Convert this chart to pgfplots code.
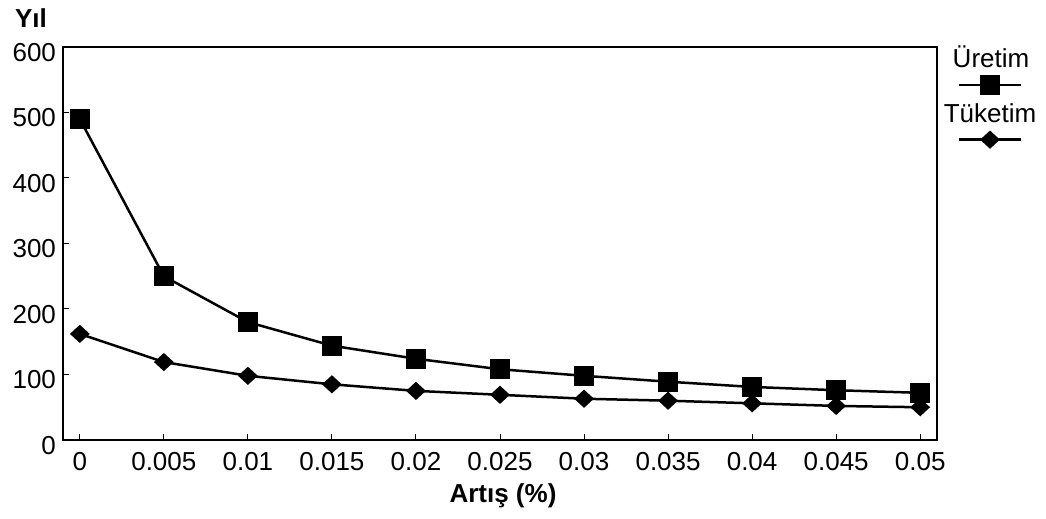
\documentclass[border=0pt]{standalone}
\usepackage{fontspec}
\setmainfont{Liberation Sans}
\usepackage{pgfplots}
\pgfplotsset{compat=1.18}
\begin{document}
\begin{tikzpicture}
\useasboundingbox (-31.5pt,-39.5pt) rectangle (491.5pt,220pt);
\begin{axis}[
 scale only axis, width=437pt, height=196.5pt,
 at={(0,0)}, anchor=south west,
 xmin=-0.2, xmax=10.2, ymin=0, ymax=600,
 xtick={0,...,10},
 xticklabels={0,0.005,0.01,0.015,0.02,0.025,0.03,0.035,0.04,0.045,0.05},
 ytick={0,100,...,600},
 tick pos=left, tick align=inside, major tick length=3pt,
 axis line style={line width=0.8pt},
 every tick/.style={black, line width=0.5pt},
 tick label style={font=\fontsize{13}{15}\selectfont},
 /pgf/number format/assume math mode=true,
 xticklabel style={yshift=-2.7pt},
 yticklabel style={yshift=-2.7pt},
 xlabel={\textbf{Artış (\%)}},
 every axis x label/.style={at={(rel axis cs:0.5,0)}, anchor=base, yshift=-31.5pt, xshift=1.5pt, font=\fontsize{13}{15}\selectfont},
 ylabel={\textbf{Yıl}},
 every axis y label/.style={at={(rel axis cs:0,1)}, anchor=base, xshift=-16pt, yshift=9.5pt, font=\fontsize{13}{15}\selectfont},
 legend style={draw=none, fill=none, at={(1.0618,0.8351)}, anchor=center, row sep=19.25pt, inner sep=0pt, nodes={inner sep=0pt}},
 legend image code/.code={\draw[mark repeat=2,mark phase=2,#1] plot coordinates {(0pt,0pt) (15.5pt,0pt) (31pt,0pt)};},
]
\addplot[black, line width=1.25pt, mark=square*, mark size=4.3pt, mark options={solid}] coordinates {
 (0,490) (1,250) (2,180) (3,144) (4,124) (5,108) (6,98) (7,89) (8,81) (9,76) (10,72)};
\addlegendentry{\hbox{}}
\addplot[black, line width=1.25pt, mark=diamond*, mark size=3.7pt, mark options={solid, xscale=1.45}] coordinates {
 (0,162) (1,119) (2,98) (3,85) (4,75) (5,69) (6,63) (7,60) (8,56) (9,52) (10,50)};
\addlegendentry{\hbox{}}
\end{axis}
\node[anchor=base, font=\fontsize{13}{15}\selectfont] at (464pt,186pt) {Üretim};
\node[anchor=base, font=\fontsize{13}{15}\selectfont] at (463.5pt,158.5pt) {Tüketim};
\end{tikzpicture}
\end{document}
